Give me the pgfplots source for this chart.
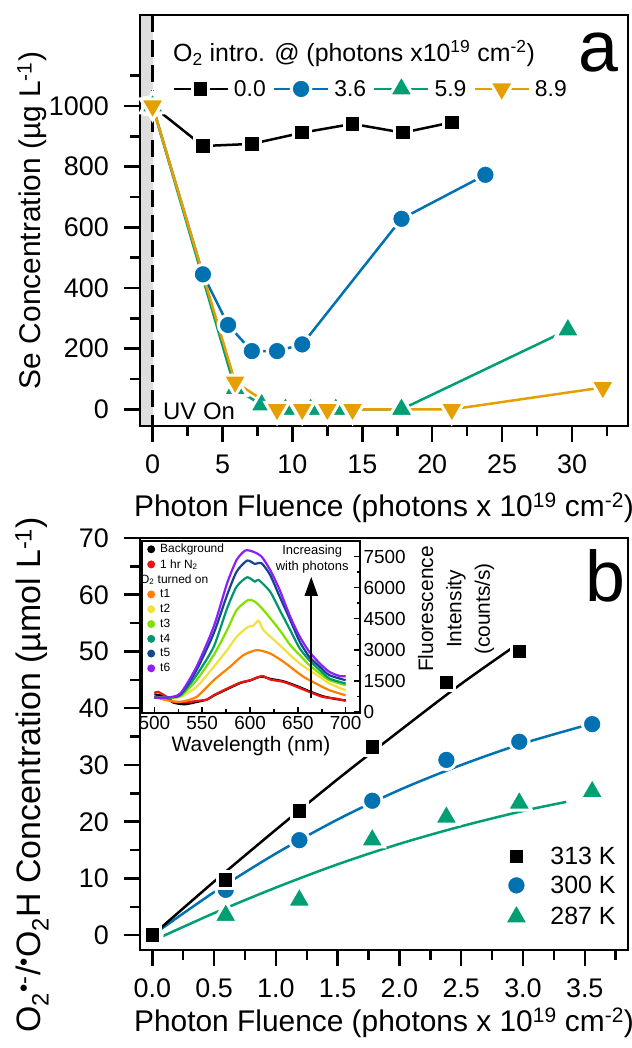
\documentclass[border=0pt]{standalone}
\usepackage{pgfplots}
\pgfplotsset{compat=1.18}
\usepackage{fontspec}
\setmainfont{Liberation Sans}
\usetikzlibrary{arrows.meta}
\definecolor{cblue}{RGB}{0,114,178}
\definecolor{cgreen}{RGB}{0,158,115}
\definecolor{corange}{RGB}{230,159,0}
\definecolor{ired}{RGB}{235,20,20}
\definecolor{iorange}{RGB}{255,128,0}
\definecolor{iyellow}{RGB}{240,225,60}
\definecolor{ilime}{RGB}{128,225,0}
\definecolor{iteal}{RGB}{0,150,110}
\definecolor{inavy}{RGB}{20,70,140}
\definecolor{ipurple}{RGB}{140,30,255}
\newcommand{\fs}[1]{\fontsize{#1}{#1}\selectfont}
\pgfplotsset{
  /pgf/number format/1000 sep={},
  mainstyle/.style={
    scale only axis, width=488bp, height=411bp,
    anchor=south west,
    axis line style={line width=2.5bp},
    tick style={line width=2.5bp, black},
    tick align=outside, xtick pos=bottom, ytick pos=left,
    major tick length=16bp, minor tick length=10bp,
    tick label style={font=\fs{27}},
    xticklabel style={anchor=north, inner sep=0pt, yshift=-13bp},
    yticklabel style={anchor=east, inner sep=0pt, xshift=-15bp},
    label style={font=\fs{30}},
    /pgf/number format/assume math mode=true,
    scaled ticks=false,
    axis on top,
  },
}
\begin{document}
\begin{tikzpicture}
\useasboundingbox (0,0) rectangle (632bp,1048bp);
% ---------------- panel a
\begin{axis}[mainstyle, at={(140bp,622bp)},
  xmin=-0.9, xmax=34, ymin=-55, ymax=1300,
  xtick={0,5,10,15,20,25,30}, minor xtick={2.5,7.5,12.5,17.5,22.5,27.5,32.5},
  ytick={0,200,400,600,800,1000}, minor ytick={100,300,500,700,900,1100},
  xlabel={Photon Fluence (photons x 10\textsuperscript{19} cm\textsuperscript{-2})},
  xlabel style={at={(rel axis cs:0.5,-0.1995)}, anchor=center},
  ylabel={Se Concentration (µg L\textsuperscript{-1})},
  ylabel style={at={(rel axis cs:-0.2213,0.5)}, anchor=center},
  legend columns=4,
  legend style={at={(rel axis cs:0.06,0.82)}, anchor=west, draw=none, fill=none,
    font=\fs{23},
    /tikz/every odd column/.append style={column sep=3bp},
    /tikz/every even column/.append style={column sep=5bp}},
  legend image code/.code={\draw[#1,mark repeat=2,mark phase=2] plot coordinates {(0bp,0bp) (27bp,0bp) (54bp,0bp)};},
]
\fill[black!13] (axis cs:-0.9,-55) rectangle (axis cs:0,1300);
\draw[line width=3bp, dash pattern=on 17bp off 8bp] (axis cs:0,1300) -- (axis cs:0,-55);
\addplot[black, line width=2.5bp, mark=square*, mark size=8.25bp,
  mark options={draw=white, line width=3bp, fill=black}] coordinates {
  (0,1000) (3.6,868) (7.1,875) (10.7,912) (14.3,941) (17.9,912) (21.4,946)};
\addlegendentry{0.0}
\addplot[cblue, line width=2.5bp, mark=*, mark size=9.75bp,
  mark options={draw=white, line width=3bp, fill=cblue}] coordinates {
  (0,1000) (3.6,445) (5.4,278) (7.1,192) (8.9,192) (10.7,214) (17.8,628) (23.8,773)};
\addlegendentry{3.6}
\addplot[cgreen, line width=2.5bp, mark=triangle*, mark size=14bp,
  mark options={draw=white, line width=3bp, fill=cgreen}] coordinates {
  (0,1000) (5.9,68) (7.8,15) (9.5,0) (11.3,0) (13.1,0) (17.8,0) (29.7,262)};
\addlegendentry{5.9}
\addplot[corange, line width=2.5bp, mark=triangle*, mark size=14bp,
  mark options={draw=white, line width=3bp, fill=corange, rotate=180}] coordinates {
  (0,1000) (5.9,90) (8.9,0) (10.7,0) (12.5,0) (14.3,0) (21.4,0) (32.2,72)};
\addlegendentry{8.9}
\end{axis}
% ---------------- panel b
\begin{axis}[mainstyle, at={(140bp,98bp)}, height=412bp,
  xmin=-0.1, xmax=3.85, ymin=-2.6, ymax=70,
  xtick={0,0.5,1,1.5,2,2.5,3,3.5}, minor xtick={0.25,0.75,1.25,1.75,2.25,2.75,3.25,3.75},
  ytick={0,10,20,30,40,50,60,70}, minor ytick={5,15,25,35,45,55,65},
  xticklabel style={/pgf/number format/.cd, fixed, fixed zerofill, precision=1},
  xlabel={Photon Fluence (photons x 10\textsuperscript{19} cm\textsuperscript{-2})},
  xlabel style={at={(rel axis cs:0.5,-0.177)}, anchor=center},
  ylabel={O\textsubscript{2}\textsuperscript{•-}/\textsuperscript{•}O\textsubscript{2}H Concentration (µmol L\textsuperscript{-1})},
  ylabel style={font=\fs{34}, at={(rel axis cs:-0.2213,0.425)}, anchor=center},
  legend style={at={(rel axis cs:0.74,0.26)}, anchor=north west, draw=none, fill=none,
    font=\fs{25}, row sep=6bp},
  legend cell align=left, reverse legend,
  legend image code/.code={\path[draw=none,fill=none] (0bp,-6bp) rectangle (44bp,6bp); \draw[#1] plot coordinates {(12bp,0bp)};},
]
\addplot[cgreen, line width=2.5bp, smooth, forget plot] coordinates {
  (0,-1) (0.5,3.9) (1.0,8.4) (1.5,12.5) (2.0,16.1) (2.5,19.2) (3.0,21.9) (3.35,23.5)};
\addplot[cblue, line width=2.5bp, smooth, forget plot] coordinates {
  (0,0) (0.5,7.6) (1.0,14.4) (1.5,20.4) (2.0,25.6) (2.5,30.0) (3.0,33.8) (3.56,37.3)};
\addplot[black, line width=2.5bp, smooth, forget plot] coordinates {
  (0,0) (0.5,9.46) (1.0,18.6) (1.5,27.5) (2.0,36.0) (2.5,44.3) (2.97,51.5)};
\addplot[only marks, cgreen, mark=triangle*, mark size=14bp,
  mark options={draw=white, line width=3bp, fill=cgreen}] coordinates {
  (0,-4) (0.594,3.5) (1.19,6.2) (1.78,16.8) (2.38,20.8) (2.97,23.3) (3.56,25.3)};
\addlegendentry{287 K}
\addplot[only marks, cblue, mark=*, mark size=9.75bp,
  mark options={draw=white, line width=3bp, fill=cblue}] coordinates {
  (0,0) (0.594,8.0) (1.19,16.75) (1.78,23.7) (2.38,30.9) (2.97,34.1) (3.56,37.2)};
\addlegendentry{300 K}
\addplot[only marks, black, mark=square*, mark size=8.25bp,
  mark options={draw=white, line width=3bp, fill=black}] coordinates {
  (0,0) (0.594,9.7) (1.19,21.9) (1.78,33.2) (2.38,44.5) (2.97,50.0)};
\addlegendentry{313 K}
\end{axis}
% ---------------- inset
\begin{axis}[scale only axis, at={(142bp,335bp)}, anchor=south west,
  width=218bp, height=172bp,
  xmin=487, xmax=715, ymin=-50, ymax=8250,
  axis background/.style={fill=white},
  axis line style={line width=2bp}, tick style={line width=1.5bp, black},
  tick align=inside, xtick pos=bottom, ytick pos=right, yticklabel pos=right,
  xtick={500,550,600,650,700}, minor xtick={525,575,625,675},
  ytick={0,1500,3000,4500,6000,7500}, minor ytick={750,2250,3750,5250,6750},
  major tick length=6bp, minor tick length=3.5bp,
  tick label style={font=\fs{19}}, /pgf/number format/assume math mode=true,
  scaled ticks=false,
  xlabel={Wavelength (nm)}, xlabel style={font=\fs{21}},
  legend style={at={(rel axis cs:0.0,1.0)}, anchor=north west, draw=none, fill=none,
    font=\fs{12}, row sep=1bp, inner sep=1bp},
  legend cell align=left,
  legend image code/.code={\path[draw=none,fill=none] (0bp,-2bp) rectangle (15bp,2bp); \fill[#1] (8bp,0bp) circle (2.8bp);},
]
\addplot[black, line width=2.2bp, smooth, tension=0.4] coordinates {
  (500,850) (510,750) (520,450) (532,371) (544,480) (555,600) (562,790) (576,1100) (590,1400) (600,1520) (609,1680) (614,1700) (621,1600) (635,1480) (649,1250) (662,1000) (676,760) (690,620) (700,560)};
\addlegendentry{Background}
\addplot[ired, line width=2.2bp, smooth, tension=0.4] coordinates {
  (500,919) (504,968) (513,726) (520,484) (527,484) (537,484) (544,532) (555,597) (562,807) (576,1129) (590,1419) (600,1532) (609,1694) (614,1726) (621,1565) (635,1452) (649,1210) (662,968) (676,726) (690,645) (700,532)};
\addlegendentry{1 hr N\textsubscript{2}}
\addlegendimage{empty legend}
\addlegendentry{\hspace{-20bp}O\textsubscript{2} turned on}
\addplot[iorange, line width=2.2bp, smooth, tension=0.4] coordinates {
  (500,726) (513,565) (527,484) (544,726) (562,1532) (579,2178) (593,2742) (607,2984) (621,2823) (635,2420) (642,2178) (656,1694) (669,1371) (683,1048) (700,807)};
\addlegendentry{t1}
\addplot[iyellow, line width=2.2bp, smooth, tension=0.4] coordinates {
  (500,726) (513,700) (527,726) (544,1210) (562,2178) (576,2984) (586,3630) (598,4113) (603,4145) (609,4404) (614,3952) (631,3226) (642,2742) (652,2339) (662,2016) (673,1694) (683,1371) (700,1048)};
\addlegendentry{t2}
\addplot[ilime, line width=2.2bp, smooth, tension=0.4] coordinates {
  (500,694) (513,694) (527,760) (544,1532) (562,2742) (576,3952) (586,4920) (598,5403) (605,5323) (614,4920) (631,3952) (642,3226) (652,2742) (662,2258) (673,1855) (683,1532) (700,1290)};
\addlegendentry{t3}
\addplot[iteal, line width=2.2bp, smooth, tension=0.4] coordinates {
  (500,694) (513,700) (527,800) (544,1774) (562,3145) (576,5000) (586,6049) (597,6500) (605,6290) (609,6371) (621,5807) (631,4920) (642,3952) (652,3065) (662,2500) (673,2016) (683,1613) (700,1371)};
\addlegendentry{t4}
\addplot[inavy, line width=2.2bp, smooth, tension=0.4] coordinates {
  (500,694) (513,694) (527,850) (544,2016) (562,3790) (576,5645) (586,6775) (597,7307) (605,7146) (612,7178) (621,6613) (631,5565) (642,4436) (652,3387) (662,2661) (673,2178) (683,1774) (700,1532)};
\addlegendentry{t5}
\addplot[ipurple, line width=2.2bp, smooth, tension=0.4] coordinates {
  (500,694) (513,694) (527,887) (544,2178) (562,4113) (576,6210) (586,7340) (595,7790) (603,7740) (612,7500) (621,6855) (631,5887) (642,4597) (652,3630) (662,2903) (673,2339) (683,1935) (694,1726) (700,1726)};
\addlegendentry{t6}
\draw[line width=1.8bp, -{Triangle[width=13bp,length=19bp]}] (axis cs:664,660) -- (axis cs:664,6520);
\node[align=center, font=\fontsize{13}{16}\selectfont] at (axis cs:665,7390) {Increasing\\with photons};
\end{axis}
% ---------------- annotations
\node[anchor=base, font=\fs{72}, inner sep=0pt] at (598bp,976bp) {a};
\node[anchor=base, font=\fs{72}, inner sep=0pt] at (605bp,446bp) {b};
\node[anchor=base west, font=\fs{25}, inner sep=0pt] at (173bp,986bp) {O\textsubscript{2} intro. @ (photons x10\textsuperscript{19} cm\textsuperscript{-2})};
\node[anchor=base west, font=\fs{24}, inner sep=0pt] at (163bp,628bp) {UV On};
\node[rotate=90, align=center, font=\fontsize{21}{28.5}\selectfont] at (456bp,439bp) {Fluorescence\\Intensity\\(counts/s)};
\end{tikzpicture}
\end{document}
